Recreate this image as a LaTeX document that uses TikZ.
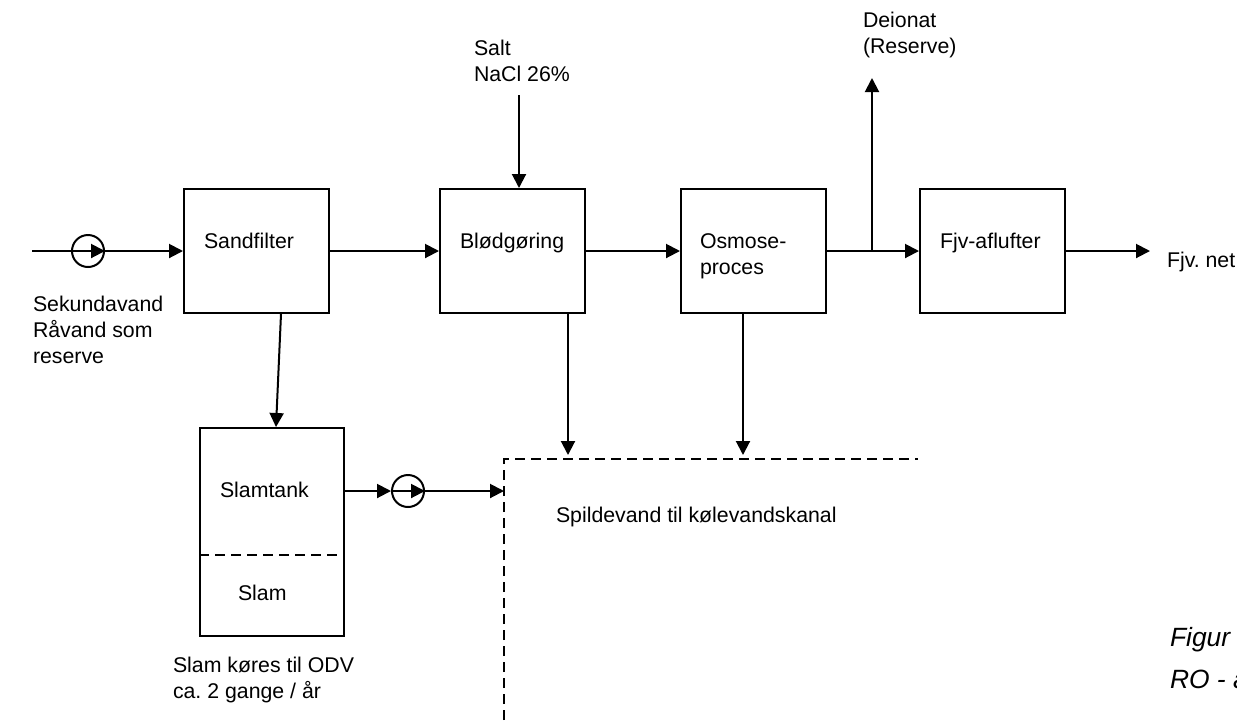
\documentclass[tikz,border=0pt]{standalone}
\usepackage{fontspec}
\setmainfont{Liberation Sans}
\usetikzlibrary{arrows.meta}
\frenchspacing
\begin{document}
\begin{tikzpicture}[x=0.5pt,y=-0.5pt,
  line width=1pt,
  arr/.style={-{Triangle[length=7pt,width=7pt]}},
  box/.style={draw,line width=1pt,minimum width=72.5pt,minimum height=62pt,inner sep=0pt,anchor=north west},
  lbl/.style={font=\fontsize{10.65pt}{13pt}\selectfont,anchor=base west,inner sep=0pt},
  fig/.style={font=\fontsize{13.2pt}{16pt}\selectfont\itshape,anchor=base west,inner sep=0pt},
  pump/.style={draw,circle,line width=1pt,minimum size=16pt,inner sep=0pt},
  dsh/.style={dash pattern=on 5pt off 3pt}]
\useasboundingbox (0,0) rectangle (1237,720);

% boxes
\node[box] (sand) at (183,188) {};
\node[box] (blod) at (439,188) {};
\node[box] (osm) at (680,188) {};
\node[box] (fjv) at (919,188) {};
\node[box,minimum width=72pt,minimum height=104pt] (tank) at (199,427) {};
\draw[dsh] ([yshift=-64pt]tank.north west) -- ([yshift=-64pt]tank.north east);

% pumps
\node[pump] (pump1) at (88,251) {};
\node[pump] (pump2) at (408,491) {};

% box texts
\node[lbl] (tsand) at (203,248) {Sandfilter};
\node[lbl] (tblod) at (459,248) {Blødgøring};
\node[lbl] (tosm1) at (699,248) {Osmose-};
\node[lbl] (tosm2) at (699,274) {proces};
\node[lbl] (tfjv) at (939,248) {Fjv-aflufter};
\node[lbl] (ttank) at (219,497) {Slamtank};
\node[lbl] (tslam) at (237,600) {Slam};

% free texts
\node[lbl] (salt1) at (473,55) {Salt};
\node[lbl] (salt2) at (473,81) {NaCl 26\%};
\node[lbl] (deo1) at (862,27) {Deionat};
\node[lbl] (deo2) at (862,53) {(Reserve)};
\node[lbl] (sek1) at (32,311) {Sekundavand};
\node[lbl] (sek2) at (32,337) {Råvand som};
\node[lbl] (sek3) at (32,363) {reserve};
\node[lbl] (spild) at (555,522) {Spildevand til kølevandskanal};
\node[lbl] (kor1) at (172,672) {Slam køres til ODV};
\node[lbl] (kor2) at (172,698) {ca. 2 gange / år};
\node[lbl] (net) at (1166,267) {Fjv. net};
\node[fig] (fig1) at (1169,646) {Figur};
\node[fig] (fig2) at (1169,688) {RO - a};

% coordinates
\coordinate (in) at (32,251);
\coordinate (br) at (872,251);
\coordinate (deo) at (872,78);
\coordinate (out) at (1150,251);
\coordinate (saltc) at (519,95);
\coordinate (dcorner) at (504,459);
\coordinate (dbot) at (504,720);
\coordinate (dend) at (918,459);
\coordinate (din) at (504,491);
\coordinate (blodend) at (568,455);
\coordinate (osmend) at (743,455);

% main line
\draw[arr] (in) -- (pump1.east);
\draw[arr] (pump1.east) -- (sand.west |- pump1.east);
\draw[arr] (sand.east |- br) -- (blod.west |- br);
\draw[arr] (blod.east |- br) -- (osm.west |- br);
\draw[arr] (osm.east |- br) -- (fjv.west |- br);
\draw[arr] (br) -- (deo);
\draw[arr] (fjv.east |- br) -- (out);
\draw[arr] (saltc) -- (saltc |- blod.north);

% down branches
\draw[arr] ([xshift=12.25pt]sand.south) -- ([xshift=2pt]tank.north);
\draw[arr] (blodend |- blod.south) -- (blodend);
\draw[arr] (osmend |- osm.south) -- (osmend);

% sludge line
\draw[arr] ([yshift=-32pt]tank.north east) -- (pump2.west);
\draw[arr] (pump2.west) -- (pump2.east);
\draw[arr] (pump2.east) -- (din);

% waste water channel
\draw[dsh] (dbot) -- (dcorner) -- (dend);
\end{tikzpicture}
\end{document}
